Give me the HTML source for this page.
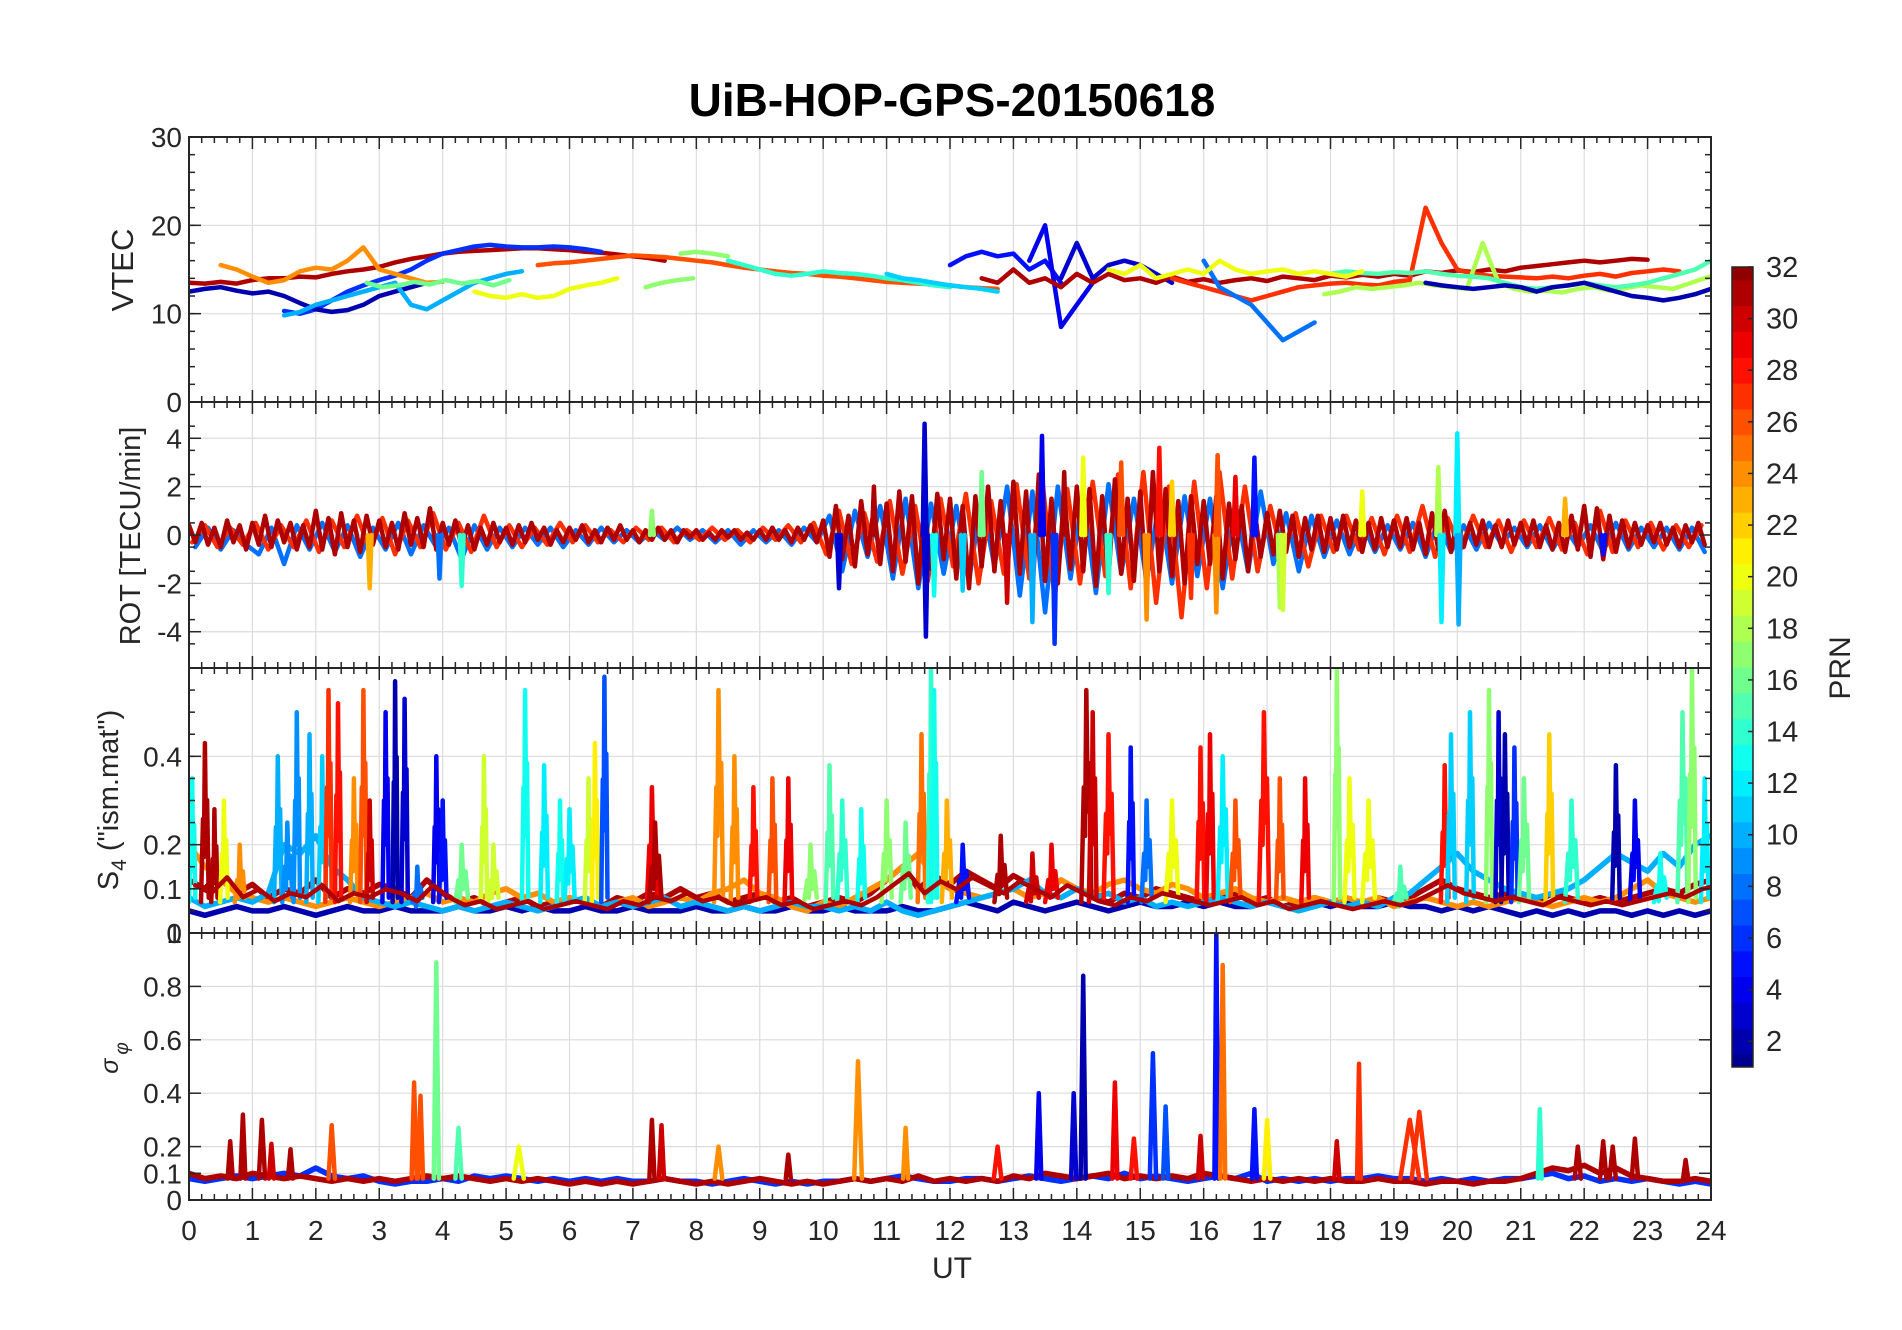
<!DOCTYPE html>
<html><head><meta charset="utf-8">
<style>
html,body{margin:0;padding:0;background:#fff;}
svg{display:block;font-family:"Liberation Sans",Arial,sans-serif;}
</style></head>
<body>
<svg id="fig" width="1902" height="1330" viewBox="0 0 1902 1330" xmlns="http://www.w3.org/2000/svg">
<rect width="1902" height="1330" fill="#fff"/>
<text x="952" y="116" text-anchor="middle" font-size="46" font-weight="bold" fill="#000">UiB-HOP-GPS-20150618</text>
<g id="panels"></g>
<text x="952" y="1278" text-anchor="middle" font-size="30" fill="#262626">UT</text>
<text transform="translate(133,270) rotate(-90)" text-anchor="middle" font-size="31" fill="#262626">VTEC</text>
<text transform="translate(140,536) rotate(-90)" text-anchor="middle" font-size="29" fill="#262626">ROT [TECU/min]</text>
<text transform="translate(118,800) rotate(-90)" text-anchor="middle" font-size="29" fill="#262626">S<tspan font-size="21" dy="8">4</tspan><tspan dy="-8"> ("ism.mat")</tspan></text>
<text transform="translate(118,1058) rotate(-90)" text-anchor="middle" font-size="25" fill="#262626" font-style="italic">σ<tspan font-size="19" dy="10" dx="4">φ</tspan></text>
<g id="cbar"></g>
<text transform="translate(1850,668) rotate(-90)" text-anchor="middle" font-size="30" fill="#262626">PRN</text>
</svg>
<script>
// ---------------- DATA ----------------
const vtecPRN   = [31,6,2,24,10,16,20,26,17,17,14,5,4,3,31,27,8,18,15,2,20,11];
const vtecStart = [0,1.5,0,0.5,1.5,2.8,4.5,5.5,7.2,7.75,8.5,12.0,13.25,13.75,12.5,15.5,16.0,17.9,18.0,19.5,14.5,11.0];
const vtecValues = [
 [13.5,13.4,13.6,13.4,13.8,14.0,14.0,14.2,14.1,14.5,14.8,15.0,15.3,15.8,16.2,16.5,16.8,17.0,17.1,17.2,17.3,17.4,17.4,17.3,17.2,17.0,16.9,16.7,16.5,16.3,16.0],
 [10.3,10.0,10.5,11.5,12.5,13.2,13.8,14.3,15.0,16.0,16.8,17.2,17.6,17.8,17.6,17.5,17.5,17.6,17.5,17.3,17.0],
 [12.5,12.8,13.0,12.6,12.3,12.5,12.0,11.2,10.5,10.2,10.4,11.0,12.0,12.5,13.0,13.5],
 [15.5,15.0,14.2,13.5,13.8,14.8,15.2,15.0,16.0,17.5,15.0,14.5,14.0,13.5,13.6],
 [9.8,10.2,11.0,11.5,12.0,12.5,13.0,13.5,11.0,10.5,11.5,12.5,13.5,14.0,14.5,14.8],
 [13.5,13.0,13.2,13.6,13.3,13.8,13.4,13.7,13.2,13.8],
 [12.5,12.0,11.8,12.2,11.8,12.0,12.8,13.2,13.5,14.0],
 [15.5,15.7,15.8,16.0,16.2,16.4,16.6,16.5,16.4,16.2,16.0,15.8,15.5,15.2,15.0,14.8,14.6,14.5,14.3,14.2,14.0,13.8,13.6,13.5,13.4,13.3,13.2,13.0,12.9,12.8],
 [13.0,13.5,13.8,14.0],
 [16.8,17.0,16.8,16.5],
 [16.0,15.5,15.0,14.5,14.3,14.5,14.8,14.6,14.5,14.3,14.0,13.8,13.5,13.2,13.0],
 [15.5,16.5,17.0,16.5,16.8,15.0,16.0,13.5],
 [16.0,20.0,8.5,11.0,13.5],
 [14.0,18.0,14.0,15.5,16.0,15.5,14.5,13.5],
 [14.0,13.5,15.0,13.5,14.0,13.0,14.5,13.5,14.5,13.8,14.0,13.5,14.2,13.6,13.9,13.5,13.8,14.0,13.7,14.2,14.0,13.8,14.3,14.1,14.4,14.2,14.5,14.3,14.8,14.6,14.9,14.7,15.0,14.8,15.2,15.4,15.6,15.8,16.0,15.8,16.0,16.2,16.1],
 [14.0,13.5,13.0,12.5,12.0,11.5,12.0,12.5,13.0,13.2,13.4,13.5,13.3,13.2,13.6,13.8,22.0,18.0,15.0,14.5,14.3,14.2,14.1,14.0,14.2,14.0,14.3,14.5,14.2,14.6,14.8,15.0,14.8],
 [16.0,13.0,12.0,11.0,9.0,7.0,8.0,9.0],
 [12.2,12.5,13.0,12.8,13.0,13.2,13.5,13.2,13.0,12.8,18.0,13.5,12.8,12.5,12.6,12.4,12.8,13.0,12.6,12.9,13.2,13.0,12.8,13.4,14.0,14.5,15.0,14.5,14.0,13.5,13.0,13.2],
 [14.5,14.8,14.6,14.5,14.7,14.6,14.8,14.5,14.3,14.2,14.0,13.5,13.0,12.8,13.0,13.2,13.5,13.2,13.0,13.2,13.5,14.0,14.5,15.0,16.0,16.5,16.0,15.5,15.0,14.5,14.2,14.0],
 [13.5,13.2,13.0,12.8,13.0,13.2,13.0,12.5,13.0,13.2,13.5,13.0,12.5,12.0,11.8,11.5,11.8,12.2,12.8,13.2,13.6,14.0],
 [15.0,14.5,15.5,14.0,14.5,15.0,14.5,16.0,15.0,14.5,14.8,15.0,14.5,14.8,14.5,14.2,14.8],
 [14.5,14.0,13.8,13.5,13.2,13.0,12.8,12.5]
];
const rotPRN   = [8,27,31];
const rotStart = [0.1,0.05,0];
const rotStep  = [0.2,0.2,0.1];
const rotValues = [
 [-0.5,0.3,-0.6,0.2,-0.4,-0.8,0.3,-1.2,0.4,-0.6,0.5,-0.7,0.4,-0.9,0.3,-0.6,0.5,-0.8,0.4,-0.5,0.3,-1.0,0.4,-0.6,0.3,-0.5,0.3,-0.4,0.3,-0.5,0.2,-0.4,0.3,-0.3,0.2,-0.3,0.2,-0.2,0.3,-0.2,0.2,-0.3,0.2,-0.4,0.2,-0.3,0.2,-0.4,0.3,-0.3,0.8,-1.5,1.0,-0.9,1.2,-1.8,1.5,-2.2,1.3,-1.6,1.2,-1.9,1.6,-1.3,2.0,-2.5,1.8,-3.2,2.0,-1.8,1.7,-2.4,2.1,-1.6,1.5,-1.9,1.4,-2.0,1.6,-1.7,1.5,-2.2,1.3,-1.5,1.8,-1.2,0.9,-1.5,0.8,-0.9,0.6,-0.8,0.5,-0.7,0.4,-0.6,0.5,-0.9,0.6,-0.7,0.4,-0.6,0.5,-0.4,0.3,-0.5,0.4,-0.6,0.3,-0.5,0.4,-0.7,0.5,-0.6,0.3,-0.5,0.3,-0.6,0.3,-0.7],
 [-0.3,0.4,-0.5,0.3,-0.4,0.5,-0.6,0.4,-0.5,0.6,-0.7,0.6,-0.5,0.8,-0.6,0.7,-0.8,0.6,-0.5,0.9,-0.6,0.5,-0.7,0.8,-0.5,0.4,-0.5,0.3,-0.4,0.5,-0.3,0.4,-0.3,0.2,-0.3,0.3,-0.2,0.3,-0.3,0.2,-0.2,0.3,-0.2,0.2,-0.3,0.3,-0.2,0.4,-0.3,0.5,-0.8,1.0,-1.2,0.9,-1.1,1.4,-1.6,1.2,-1.9,1.5,-1.3,1.7,-2.0,1.4,-1.6,2.1,-1.8,2.4,-2.6,1.9,-2.0,2.2,-1.7,2.5,-2.2,2.6,-2.8,2.0,-3.4,2.2,-2.2,2.6,-1.8,2.0,-1.5,1.2,-1.0,0.9,-1.3,0.8,-0.7,0.8,-0.6,0.7,-0.8,0.8,-0.7,1.2,-0.9,0.7,-0.6,0.8,-0.5,0.6,-0.7,0.6,-0.5,0.7,-0.6,0.5,-0.8,1.0,-0.7,0.6,-0.5,0.5,-0.6,0.4,-0.5,0.4],
 [0.4,-0.3,0.5,-0.4,0.3,-0.5,0.6,-0.3,0.4,-0.6,0.5,-0.4,0.8,-0.5,0.6,-0.3,0.5,-0.6,0.4,-0.5,1.0,-0.6,0.7,-0.8,0.9,-0.5,0.6,-0.7,0.8,-0.4,0.6,-0.5,0.5,-0.6,0.9,-0.4,0.7,-0.5,1.1,-0.6,0.5,-0.4,0.6,-0.5,0.4,-0.6,0.3,-0.4,0.5,-0.3,0.3,-0.4,0.4,-0.3,0.5,-0.2,0.3,-0.4,0.2,-0.3,0.3,-0.2,0.4,-0.3,0.2,-0.3,0.3,-0.2,0.4,-0.2,0.2,-0.3,0.2,-0.2,0.3,-0.2,0.2,-0.3,0.2,-0.1,0.2,-0.2,0.1,-0.2,0.2,-0.1,0.2,-0.2,0.1,-0.2,0.2,-0.2,0.3,-0.2,0.2,-0.3,0.3,-0.2,0.4,-0.3,0.6,-0.9,1.2,-1.0,0.8,-1.3,1.4,-0.8,1.1,-1.2,1.3,-1.5,1.8,-1.1,1.6,-2.0,1.2,-1.4,1.7,-1.0,1.5,-1.8,1.2,-2.2,1.6,-1.3,2.0,-1.5,1.4,-1.7,2.2,-1.6,1.8,-2.4,2.5,-1.9,1.5,-2.0,1.7,-1.4,2.0,-1.5,1.9,-2.1,1.6,-1.8,2.3,-1.6,1.5,-1.9,1.8,-2.4,2.6,-1.5,1.9,-1.7,1.4,-2.0,1.6,-1.2,1.4,-1.2,1.6,-1.8,1.3,-1.0,1.2,-1.5,1.1,-0.9,0.9,-0.8,1.0,-0.7,0.8,-0.9,0.7,-0.6,0.8,-0.7,0.7,-0.6,0.8,-0.5,0.6,-0.7,0.5,-0.6,0.7,-0.5,0.6,-0.5,0.7,-0.6,0.5,-0.8,0.9,-0.6,1.0,-0.7,0.6,-0.5,0.5,-0.4,0.6,-0.5,0.4,-0.5,0.6,-0.4,0.5,-0.4,0.6,-0.5,0.4,-0.6,0.5,-0.7,0.8,-0.6,1.2,-0.9,1.1,-1.0,0.8,-0.7,0.6,-0.5,0.5,-0.4,0.4,-0.3,0.5,-0.4,0.3,-0.5,0.4,-0.3,0.5,-0.4]
];
const rotSpikeTime  = [11.6,11.62,13.45,13.65,13.3,14.1,14.7,15.1,15.3,16.2,16.22,17.2,16.8,17.25,19.7,19.75,20.0,20.02,2.85,4.3,3.95,12.5,11.75,10.25,15.5,21.7,7.3,22.3,18.5,14.5,12.9,13.8,15.8,16.5,10.8,12.2];
const rotSpikeValue = [4.6,-4.2,4.1,-4.5,-3.6,3.2,3.0,-3.5,3.6,-3.2,3.3,-3.0,3.2,-3.1,2.8,-3.6,4.2,-3.7,-2.2,-2.1,-1.8,2.6,-2.5,-2.2,2.2,1.5,1.0,-0.8,1.8,-2.4,-2.8,2.6,-2.6,2.4,2.0,-2.3];
const rotSpikePRN   = [3,3,4,6,10,20,26,24,28,24,26,18,5,19,18,12,12,10,23,14,8,16,13,3,22,23,17,5,20,14,30,31,27,29,31,11];
const s4BasePRN = [2,31,24,10];
const s4BaseValues = [
 [0.05,0.04,0.05,0.06,0.05,0.05,0.06,0.05,0.04,0.05,0.06,0.05,0.05,0.06,0.05,0.05,0.05,0.06,0.05,0.05,0.06,0.05,0.06,0.05,0.05,0.06,0.05,0.05,0.06,0.05,0.05,0.05,0.06,0.05,0.05,0.06,0.05,0.05,0.06,0.05,0.05,0.06,0.05,0.05,0.05,0.06,0.05,0.05,0.06,0.07,0.06,0.05,0.07,0.06,0.05,0.06,0.07,0.06,0.05,0.06,0.07,0.06,0.06,0.07,0.06,0.07,0.06,0.06,0.07,0.06,0.06,0.07,0.06,0.07,0.06,0.06,0.07,0.06,0.06,0.05,0.06,0.05,0.06,0.05,0.04,0.05,0.04,0.05,0.04,0.05,0.05,0.04,0.05,0.04,0.05,0.04,0.05],
 [0.12,0.10,0.14,0.09,0.11,0.08,0.10,0.09,0.12,0.08,0.10,0.09,0.11,0.10,0.08,0.12,0.09,0.07,0.08,0.06,0.07,0.08,0.06,0.07,0.08,0.07,0.06,0.08,0.07,0.09,0.08,0.10,0.08,0.09,0.07,0.08,0.09,0.07,0.08,0.06,0.07,0.08,0.07,0.09,0.12,0.15,0.10,0.13,0.11,0.14,0.12,0.10,0.13,0.11,0.09,0.12,0.10,0.08,0.07,0.09,0.08,0.10,0.09,0.08,0.07,0.08,0.09,0.07,0.08,0.06,0.07,0.08,0.07,0.06,0.07,0.08,0.07,0.08,0.10,0.12,0.10,0.09,0.08,0.09,0.08,0.07,0.09,0.08,0.07,0.08,0.07,0.08,0.09,0.10,0.09,0.11,0.12],
 [0.20,0.15,0.12,0.09,0.08,0.07,0.08,0.07,0.06,0.07,0.08,0.07,0.06,0.07,0.08,0.09,0.07,0.08,0.07,0.09,0.10,0.08,0.09,0.07,0.08,0.07,0.06,0.07,0.08,0.06,0.07,0.08,0.07,0.09,0.10,0.12,0.09,0.08,0.06,0.05,0.07,0.06,0.08,0.10,0.12,0.15,0.18,0.12,0.10,0.09,0.08,0.09,0.10,0.08,0.09,0.12,0.10,0.09,0.11,0.12,0.10,0.09,0.11,0.10,0.08,0.09,0.10,0.08,0.07,0.08,0.07,0.08,0.07,0.08,0.07,0.08,0.06,0.07,0.08,0.07,0.06,0.07,0.06,0.07,0.08,0.07,0.06,0.07,0.08,0.07,0.08,0.10,0.12,0.09,0.08,0.07,0.08],
 [0.08,0.06,0.07,0.08,0.07,0.09,0.20,0.18,0.22,0.15,0.12,0.08,0.07,0.06,0.07,0.06,0.05,0.06,0.05,0.06,0.07,0.06,0.05,0.06,0.07,0.08,0.06,0.07,0.06,0.07,0.08,0.06,0.07,0.06,0.05,0.06,0.05,0.06,0.07,0.06,0.06,0.05,0.06,0.05,0.07,0.05,0.04,0.05,0.06,0.07,0.08,0.09,0.10,0.12,0.09,0.08,0.10,0.08,0.09,0.07,0.08,0.06,0.07,0.06,0.07,0.08,0.07,0.06,0.07,0.06,0.05,0.06,0.07,0.06,0.07,0.06,0.08,0.09,0.12,0.15,0.18,0.14,0.12,0.10,0.09,0.08,0.09,0.10,0.12,0.15,0.18,0.16,0.14,0.18,0.15,0.20,0.22]
];
const s4PeakTime  = [0.05,0.25,0.4,0.55,0.8,1.4,1.55,1.7,1.9,2.1,2.2,2.35,2.6,2.75,2.85,3.1,3.25,3.4,3.6,3.9,4.0,4.3,4.65,4.8,5.3,5.6,5.85,6.0,6.3,6.4,6.55,7.3,7.35,8.35,8.6,8.9,9.2,9.45,9.8,10.1,10.3,10.6,11.0,11.3,11.55,11.7,11.75,11.95,12.2,12.8,13.3,13.6,14.15,14.25,14.5,14.85,15.1,15.5,15.95,16.1,16.3,16.5,16.95,17.2,17.6,18.1,18.3,18.6,19.1,19.8,19.9,20.2,20.5,20.65,20.75,20.9,21.05,21.45,21.8,22.5,22.8,23.2,23.55,23.7,23.9];
const s4PeakValue = [0.35,0.43,0.28,0.3,0.2,0.4,0.25,0.5,0.45,0.4,0.55,0.52,0.35,0.55,0.3,0.5,0.57,0.53,0.15,0.4,0.3,0.2,0.4,0.2,0.55,0.38,0.3,0.28,0.35,0.43,0.58,0.33,0.25,0.55,0.4,0.33,0.35,0.35,0.2,0.38,0.3,0.28,0.3,0.25,0.45,0.6,0.55,0.3,0.2,0.22,0.18,0.2,0.55,0.5,0.45,0.42,0.3,0.3,0.42,0.45,0.4,0.3,0.5,0.35,0.35,0.6,0.35,0.3,0.15,0.38,0.45,0.5,0.55,0.5,0.45,0.42,0.35,0.45,0.3,0.38,0.3,0.18,0.5,0.6,0.35];
const s4PeakWidth = [0.05,0.06,0.05,0.06,0.08,0.06,0.08,0.05,0.05,0.06,0.05,0.05,0.06,0.05,0.05,0.05,0.04,0.05,0.08,0.05,0.06,0.1,0.05,0.08,0.05,0.06,0.05,0.08,0.06,0.05,0.05,0.08,0.1,0.07,0.06,0.06,0.06,0.06,0.1,0.06,0.08,0.06,0.08,0.08,0.06,0.05,0.05,0.08,0.1,0.1,0.1,0.1,0.08,0.06,0.08,0.05,0.08,0.1,0.06,0.06,0.08,0.08,0.08,0.06,0.06,0.05,0.08,0.1,0.1,0.06,0.06,0.06,0.05,0.05,0.06,0.05,0.08,0.06,0.1,0.06,0.08,0.1,0.08,0.06,0.06];
const s4PeakPRN   = [13,31,31,20,24,10,9,9,10,11,27,28,24,26,30,4,2,3,8,4,5,16,19,19,13,12,13,12,19,21,7,29,31,24,24,28,26,29,17,15,14,13,17,16,25,14,13,23,5,31,30,29,31,30,28,5,8,20,28,29,12,26,28,26,29,17,20,20,15,28,11,11,17,3,2,6,16,22,14,2,4,13,15,17,12];
const spBasePRN = [6,31];
const spBaseValues = [
 [0.08,0.07,0.08,0.09,0.08,0.09,0.10,0.09,0.12,0.09,0.08,0.09,0.07,0.06,0.07,0.07,0.08,0.07,0.09,0.08,0.09,0.08,0.07,0.08,0.07,0.08,0.07,0.08,0.07,0.07,0.08,0.07,0.07,0.06,0.07,0.08,0.07,0.06,0.07,0.06,0.07,0.07,0.08,0.07,0.08,0.09,0.08,0.07,0.07,0.08,0.08,0.07,0.08,0.09,0.08,0.07,0.08,0.09,0.08,0.10,0.08,0.09,0.08,0.07,0.08,0.09,0.08,0.10,0.07,0.08,0.07,0.08,0.07,0.08,0.08,0.09,0.08,0.08,0.07,0.08,0.07,0.08,0.07,0.08,0.08,0.09,0.10,0.08,0.09,0.07,0.08,0.07,0.08,0.07,0.06,0.07,0.06],
 [0.10,0.08,0.09,0.08,0.10,0.09,0.08,0.09,0.08,0.07,0.08,0.07,0.08,0.07,0.08,0.09,0.08,0.09,0.08,0.07,0.08,0.07,0.08,0.07,0.06,0.07,0.06,0.07,0.06,0.07,0.08,0.07,0.06,0.07,0.06,0.07,0.08,0.07,0.06,0.07,0.06,0.07,0.08,0.07,0.08,0.07,0.09,0.07,0.08,0.07,0.08,0.07,0.09,0.08,0.10,0.09,0.08,0.09,0.10,0.08,0.09,0.08,0.09,0.08,0.10,0.09,0.08,0.07,0.08,0.07,0.08,0.07,0.08,0.07,0.07,0.08,0.07,0.07,0.06,0.07,0.07,0.06,0.07,0.07,0.08,0.10,0.12,0.11,0.13,0.10,0.12,0.09,0.08,0.07,0.07,0.08,0.07]
];
const spPeakTime  = [0.65,0.85,1.15,1.3,1.6,2.25,3.55,3.65,3.9,4.25,5.2,7.3,7.45,8.35,9.45,10.55,11.3,12.75,13.4,13.95,14.1,14.6,14.9,15.2,15.4,15.95,16.2,16.3,16.8,17.0,18.1,18.45,19.25,19.4,21.3,21.9,22.3,22.45,22.8,23.6];
const spPeakValue = [0.22,0.32,0.3,0.21,0.19,0.28,0.44,0.39,0.89,0.27,0.2,0.3,0.28,0.2,0.17,0.52,0.27,0.2,0.4,0.4,0.84,0.44,0.23,0.55,0.35,0.24,1.0,0.88,0.34,0.3,0.22,0.51,0.3,0.33,0.34,0.2,0.22,0.2,0.23,0.15];
const spPeakWidth = [0.04,0.04,0.05,0.04,0.04,0.05,0.04,0.04,0.04,0.05,0.08,0.04,0.04,0.06,0.04,0.06,0.04,0.06,0.04,0.04,0.04,0.04,0.05,0.05,0.04,0.04,0.03,0.04,0.04,0.05,0.04,0.03,0.15,0.12,0.03,0.05,0.05,0.05,0.05,0.04];
const spPeakPRN   = [31,31,31,30,31,26,26,26,16,15,20,31,30,24,31,24,24,28,4,3,2,29,28,6,7,30,5,25,5,21,30,27,27,27,14,31,31,31,31,31];
const xTickLabels = ['0','1','2','3','4','5','6','7','8','9','10','11','12','13','14','15','16','17','18','19','20','21','22','23','24'];
const vtecTicks = [0,10,20,30];
const rotTicks = [-4,-2,0,2,4];
const s4Ticks = [0,0.1,0.2,0.4];
const spTicks = [0,0.1,0.2,0.4,0.6,0.8,1];
const cbarTicks = [2,4,6,8,10,12,14,16,18,20,22,24,26,28,30,32];

// ---------------- DRAWING ----------------
const NS='http://www.w3.org/2000/svg';
const svg=document.getElementById('fig');
const panelsG=document.getElementById('panels');
const X0=189, X1=1711;
function xs(t){return X0+(t/24)*(X1-X0);}
function mk(tag,attrs,parent){const e=document.createElementNS(NS,tag);for(const k in attrs)e.setAttribute(k,attrs[k]);parent.appendChild(e);return e;}
function jet(p){
  const v=(p-0.5)/32;
  const r=Math.max(0,Math.min(1,1.5-Math.abs(4*v-3)));
  const g=Math.max(0,Math.min(1,1.5-Math.abs(4*v-2)));
  const b=Math.max(0,Math.min(1,1.5-Math.abs(4*v-1)));
  return 'rgb('+Math.round(r*255)+','+Math.round(g*255)+','+Math.round(b*255)+')';
}
const panels=[
 {name:'vtec',top:137,bot:402,min:0,max:30,ticks:vtecTicks,minor:2},
 {name:'rot',top:402,bot:668,min:-5.5,max:5.5,ticks:rotTicks,minor:1},
 {name:'s4',top:668,bot:933,min:0,max:0.6,ticks:s4Ticks,minor:0.05},
 {name:'sigma-phi',top:933,bot:1200,min:0,max:1,ticks:spTicks,minor:0}
];
function ysFn(p){return v=>p.bot-(v-p.min)/(p.max-p.min)*(p.bot-p.top);}

panels.forEach((p,pi)=>{
  const g=mk('g',{},panelsG);
  
  
  const ys=ysFn(p);
  const cid='clip'+pi;
  const cp=mk('clipPath',{id:cid},g);
  mk('rect',{x:X0,y:p.top,width:X1-X0,height:p.bot-p.top},cp);
  const grid=mk('g',{stroke:'#dcdcdc','stroke-width':1.2},g);
  
  
  for(let h=1;h<24;h++) mk('line',{x1:xs(h),x2:xs(h),y1:p.top,y2:p.bot},grid);
  p.ticks.forEach(t=>{if(t>p.min&&t<p.max) mk('line',{x1:X0,x2:X1,y1:ys(t),y2:ys(t)},grid);});
  const dl=mk('g',{'clip-path':'url(#'+cid+')',fill:'none','stroke-linejoin':'round','stroke-linecap':'round'},g);
  
  
  p.layer=dl; p.ys=ys;
  const tk=mk('g',{stroke:'#262626','stroke-width':1.5},g);
  for(let i=0;i<=120;i++){
    const t=i*0.2; const major=(i%5===0); const L=major?12:6;
    mk('line',{x1:xs(t),x2:xs(t),y1:p.bot,y2:p.bot-L},tk);
    mk('line',{x1:xs(t),x2:xs(t),y1:p.top,y2:p.top+L},tk);
  }
  if(p.minor>0){for(let v=p.min;v<=p.max+1e-9;v+=p.minor){mk('line',{x1:X0,x2:X0+6,y1:ys(v),y2:ys(v)},tk);mk('line',{x1:X1,x2:X1-6,y1:ys(v),y2:ys(v)},tk);}}
  p.ticks.forEach(t=>{mk('line',{x1:X0,x2:X0+12,y1:ys(t),y2:ys(t)},tk);mk('line',{x1:X1,x2:X1-12,y1:ys(t),y2:ys(t)},tk);
    const lb=mk('text',{x:X0-7,y:ys(t)+10,'text-anchor':'end','font-size':28,fill:'#262626'},g);
    
    
    lb.textContent=String(t);
  });
  const box=mk('rect',{x:X0,y:p.top,width:X1-X0,height:p.bot-p.top,fill:'none',stroke:'#262626','stroke-width':2},g);
  
  
});

function poly(layer,pts,color,w,name){
  const e=mk('polyline',{points:pts.map(q=>q[0].toFixed(1)+','+q[1].toFixed(1)).join(' '),stroke:color,'stroke-width':w},layer);
  
  
  return e;
}
{const p=panels[0];
 vtecValues.forEach((vals,i)=>{const pts=vals.map((v,j)=>[xs(vtecStart[i]+j*0.25),p.ys(v)]);poly(p.layer,pts,jet(vtecPRN[i]),4.5,'vtec-line-prn'+vtecPRN[i]);});}
{const p=panels[1];
 rotValues.forEach((vals,i)=>{const pts=vals.map((v,j)=>[xs(rotStart[i]+j*rotStep[i]),p.ys(v)]);poly(p.layer,pts,jet(rotPRN[i]),4.5,'rot-line-prn'+rotPRN[i]);});
 rotSpikeTime.forEach((t,i)=>{poly(p.layer,[[xs(t-0.03),p.ys(0)],[xs(t),p.ys(rotSpikeValue[i])],[xs(t+0.03),p.ys(0)]],jet(rotSpikePRN[i]),4.5,'rot-spike');});}
{const p=panels[2];
 s4BaseValues.forEach((vals,i)=>{const pts=vals.map((v,j)=>[xs(j*0.25),p.ys(v)]);poly(p.layer,pts,jet(s4BasePRN[i]),5.5,'s4-baseline-prn'+s4BasePRN[i]);});
 s4PeakTime.forEach((t,i)=>{const w=s4PeakWidth[i],v=s4PeakValue[i];
   poly(p.layer,[[xs(t-w),p.ys(0.07)],[xs(t-w*0.5),p.ys(v*0.6)],[xs(t-w*0.25),p.ys(v*0.4)],[xs(t),p.ys(v)],[xs(t+w*0.3),p.ys(v*0.5)],[xs(t+w*0.6),p.ys(v*0.7)],[xs(t+w),p.ys(0.08)]],jet(s4PeakPRN[i]),4.5,'s4-peak-prn'+s4PeakPRN[i]);});
 poly(p.layer,s4BaseValues[1].map((v,j)=>[xs(j*0.25+0.1),p.ys(v*0.9)]),jet(31),4.5,'s4-baseline-prn31-b');}
{const p=panels[3];
 spBaseValues.forEach((vals,i)=>{const pts=vals.map((v,j)=>[xs(j*0.25),p.ys(v)]);poly(p.layer,pts,jet(spBasePRN[i]),5.5,'sigma-phi-baseline-prn'+spBasePRN[i]);});
 spPeakTime.forEach((t,i)=>{const w=spPeakWidth[i];
   poly(p.layer,[[xs(t-w),p.ys(0.08)],[xs(t),p.ys(spPeakValue[i])],[xs(t+w),p.ys(0.08)]],jet(spPeakPRN[i]),4.5,'sigma-phi-peak-prn'+spPeakPRN[i]);});}
xTickLabels.forEach((l,i)=>{const e=mk('text',{x:xs(i),y:1240,'text-anchor':'middle','font-size':28,fill:'#262626'},svg);
  
  
  e.textContent=l;});
{const cg=document.getElementById('cbar');
 
 
 const CT=267,CB=1067,CX=1732,CW=21;
 const cy=v=>CB-(v-1)/31*(CB-CT);
 for(let k=1;k<=32;k++){
   const y0=cy(Math.min(32,k+0.5)), y1=cy(Math.max(1,k-0.5));
   mk('rect',{x:CX,y:y0,width:CW,height:y1-y0+0.5,fill:jet(k)},cg);}
 mk('rect',{x:CX,y:CT,width:CW,height:CB-CT,fill:'none',stroke:'#262626','stroke-width':1.5},cg);
 cbarTicks.forEach(t=>{mk('line',{x1:CX+CW-5,x2:CX+CW,y1:cy(t),y2:cy(t),stroke:'#262626','stroke-width':1.5},cg);
   const e=mk('text',{x:CX+CW+13,y:cy(t)+10,'font-size':29,fill:'#262626'},cg);
   
   
   e.textContent=String(t);});}
</script>
</body></html>
